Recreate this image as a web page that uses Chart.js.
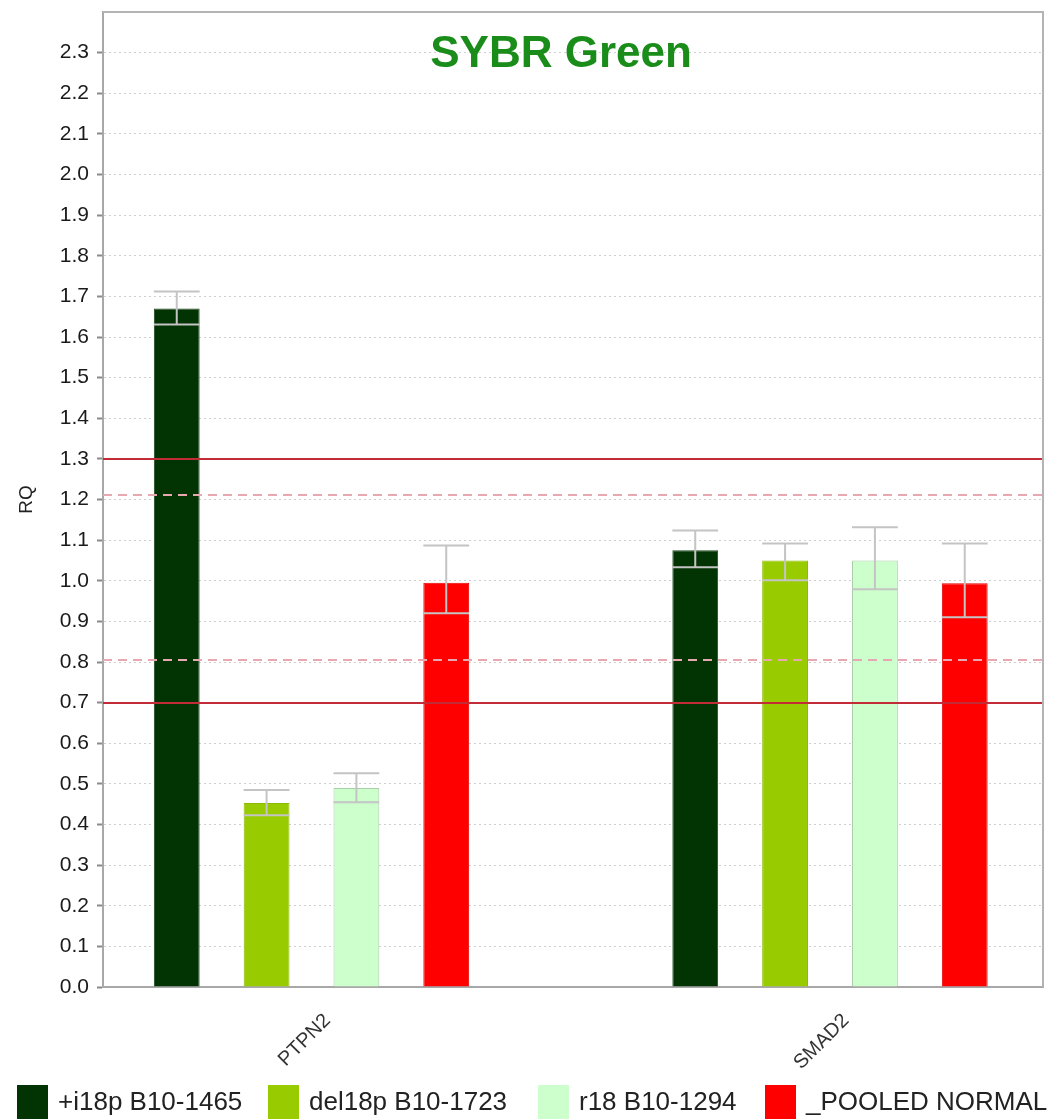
<!DOCTYPE html>
<html>
<head>
<meta charset="utf-8">
<script src="https://cdn.jsdelivr.net/npm/chart.js@4/dist/chart.umd.min.js"></script>
<style>
  html, body { margin: 0; padding: 0; background: #ffffff; }
  #wrap { width: 1048px; height: 1119px; }
</style>
</head>
<body>
<div id="wrap"><canvas id="c" width="1048" height="1119"></canvas></div>
<script>
// ---------- data ----------
const categories = ['PTPN2', 'SMAD2'];
const seriesNames = ['+i18p B10-1465', 'del18p B10-1723', 'r18 B10-1294', '_POOLED NORMAL'];

const rqI18p   = [1.670, 1.075];
const rqDel18p = [0.453, 1.050];
const rqR18    = [0.490, 1.050];
const rqPooled = [0.995, 0.994];

const hiI18p   = [1.712, 1.124];
const hiDel18p = [0.485, 1.092];
const hiR18    = [0.526, 1.132];
const hiPooled = [1.087, 1.092];

const loI18p   = [1.631, 1.033];
const loDel18p = [0.423, 1.001];
const loR18    = [0.455, 0.979];
const loPooled = [0.920, 0.910];

const solidThresholds  = [1.3, 0.7];
const dashedThresholds = [1.21, 0.805];

const yTickMin = 0, yTickMax = 2.4, yTickStep = 0.1;
const chartTitle = 'SYBR Green';
const yAxisTitle = 'RQ';

// ---------- styles ----------
const fills   = ['#023302', '#99cc00', '#ccffcc', '#ff0000'];
const borders = ['#1d4a1d', '#8dbb00', '#a9cca9', '#e80000'];
const FONT = '"Liberation Sans", Arial, Helvetica, sans-serif';
Chart.defaults.font.family = FONT;

const seriesValues = [rqI18p, rqDel18p, rqR18, rqPooled];
const seriesHigh = [hiI18p, hiDel18p, hiR18, hiPooled];
const seriesLow  = [loI18p, loDel18p, loR18, loPooled];

const datasets = seriesNames.map((name, i) => ({
  label: name,
  data: categories.map((c, j) => ({ x: j, y: seriesValues[i][j] })),
  errHigh: seriesHigh[i],
  errLow: seriesLow[i],
  backgroundColor: fills[i],
  borderColor: borders[i],
  borderWidth: 1,
  categoryPercentage: 0.693,
  barPercentage: 0.51
}));

// error bars + threshold lines
const errorBarPlugin = {
  id: 'errorBars',
  afterDatasetsDraw(chart) {
    const ctx = chart.ctx, y = chart.scales.y;
    ctx.save();
    ctx.strokeStyle = '#c4c4c4';
    ctx.lineWidth = 2;
    chart.data.datasets.forEach((ds, di) => {
      const meta = chart.getDatasetMeta(di);
      meta.data.forEach((el, j) => {
        const hw = el.width / 2;
        const yh = y.getPixelForValue(ds.errHigh[j]);
        const yl = y.getPixelForValue(ds.errLow[j]);
        ctx.beginPath();
        ctx.moveTo(el.x, yh); ctx.lineTo(el.x, yl);
        ctx.moveTo(el.x - hw, yh); ctx.lineTo(el.x + hw, yh);
        ctx.moveTo(el.x - hw, yl); ctx.lineTo(el.x + hw, yl);
        ctx.stroke();
      });
    });
    const a = chart.chartArea;
    ctx.lineWidth = 2;
    ctx.strokeStyle = '#c22c36';
    solidThresholds.forEach(v => {
      const py = Math.round(y.getPixelForValue(v));
      ctx.beginPath(); ctx.moveTo(a.left, py); ctx.lineTo(a.right, py); ctx.stroke();
    });
    ctx.strokeStyle = '#e8a8b2';
    ctx.setLineDash([9, 6]);
    dashedThresholds.forEach(v => {
      const py = Math.round(y.getPixelForValue(v));
      ctx.beginPath(); ctx.moveTo(a.left, py); ctx.lineTo(a.right, py); ctx.stroke();
    });
    ctx.restore();
  }
};

// frame, title and legend
const decorPlugin = {
  id: 'decor',
  afterDraw(chart) {
    const ctx = chart.ctx, a = chart.chartArea;
    ctx.save();
    ctx.strokeStyle = '#b4b4b4';
    ctx.lineWidth = 2;
    ctx.beginPath();
    ctx.moveTo(a.left, a.top); ctx.lineTo(a.right, a.top); ctx.lineTo(a.right, a.bottom);
    ctx.stroke();

    ctx.fillStyle = '#1a8c1a';
    ctx.font = 'bold 44px ' + FONT;
    ctx.textAlign = 'center';
    ctx.textBaseline = 'alphabetic';
    ctx.fillText(chartTitle, (a.left + a.right) / 2 - 12, 67);

    const boxX = [17, 268, 538, 765];
    ctx.font = '26px ' + FONT;
    ctx.textAlign = 'left';
    ctx.textBaseline = 'middle';
    seriesNames.forEach((name, i) => {
      ctx.fillStyle = fills[i];
      ctx.fillRect(boxX[i], 1085, 31, 36);
      ctx.fillStyle = '#222222';
      ctx.fillText(name, boxX[i] + 41, 1103);
    });
    ctx.restore();
  }
};

new Chart(document.getElementById('c'), {
  type: 'bar',
  data: { datasets },
  plugins: [errorBarPlugin, decorPlugin],
  options: {
    responsive: false,
    animation: false,
    layout: { padding: { left: 0, top: 12, right: 5, bottom: 0 } },
    plugins: { legend: { display: false }, title: { display: false }, tooltip: { enabled: false } },
    scales: {
      x: {
        type: 'linear',
        offset: false,
        min: -0.4021,
        max: 1.4108,
        afterBuildTicks(scale) { scale.ticks = categories.map((c, i) => ({ value: i })); },
        afterFit(scale) { scale.height = 132; scale.paddingLeft = 0; scale.paddingRight = 0; },
        grid: { display: false, offset: false },
        border: { display: true, color: '#a8a8a8', width: 2 },
        ticks: {
          autoSkip: false,
          minRotation: 45,
          maxRotation: 45,
          labelOffset: 16,
          padding: 14,
          color: '#333333',
          font: { size: 20 },
          callback: (v) => categories[Math.round(v)]
        }
      },
      y: {
        min: yTickMin,
        max: yTickMax,
        afterFit(scale) { scale.width = 103; scale.paddingTop = 0; scale.paddingBottom = 0; },
        grid: {
          color: '#cfcfcf',
          lineWidth: 1,
          drawTicks: true,
          tickLength: 6,
          tickColor: '#8a8a8a',
          tickWidth: 2
        },
        border: { display: true, color: '#a8a8a8', width: 2, dash: [2, 3] },
        title: { display: true, text: yAxisTitle, color: '#222222', font: { size: 19 }, padding: { top: 15, bottom: 0 } },
        ticks: {
          stepSize: yTickStep,
          padding: 8,
          color: '#1a1a1a',
          font: { size: 21 },
          callback: (v) => (v > 2.35 ? null : Number(v).toFixed(1))
        }
      }
    }
  }
});
</script>
</body>
</html>
